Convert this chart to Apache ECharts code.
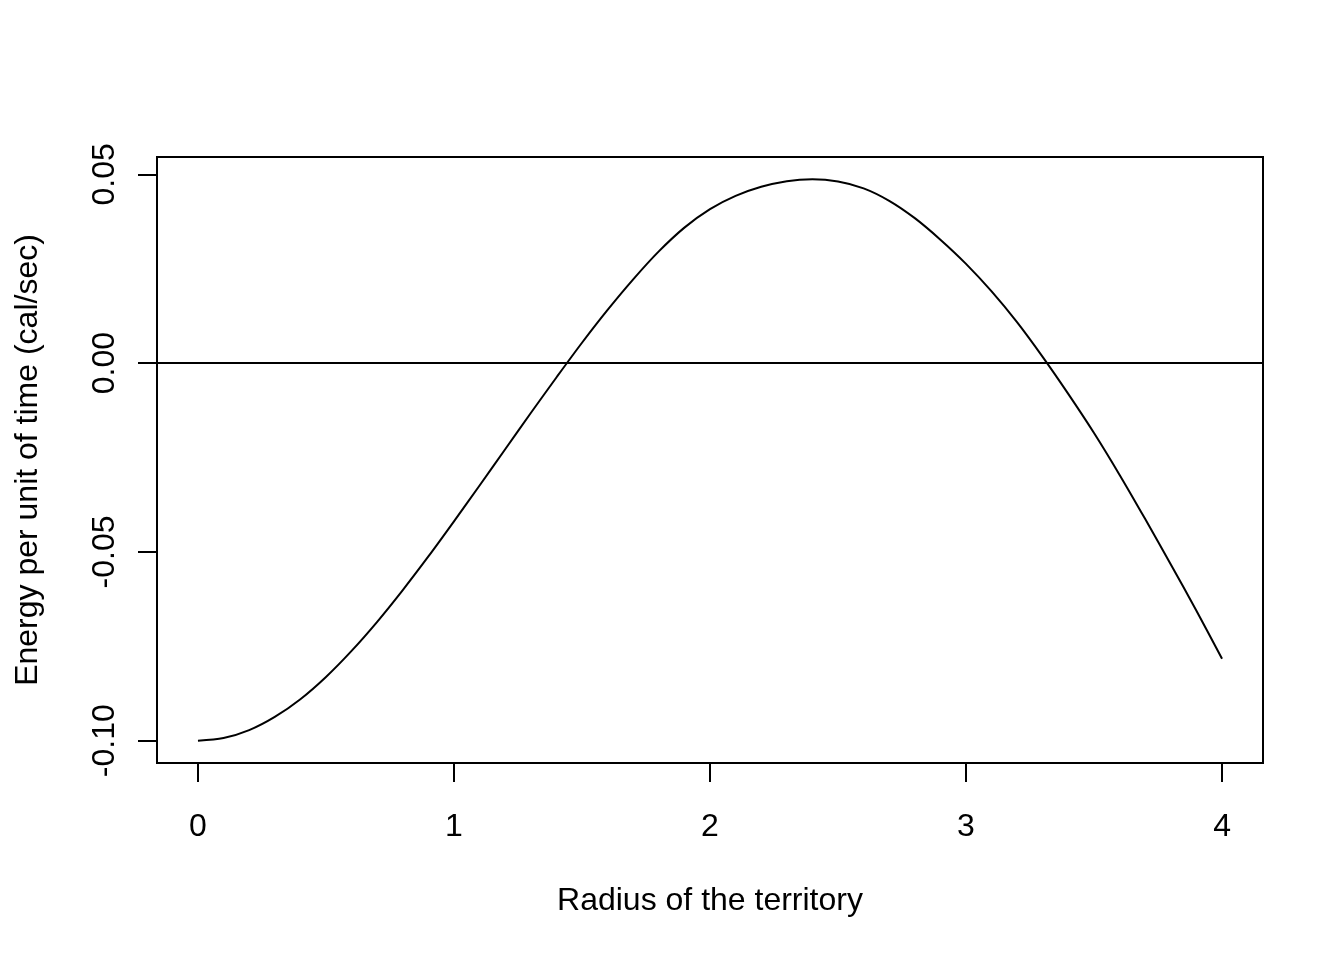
<!DOCTYPE html>
<html>
<head>
<meta charset="utf-8">
<script src="https://cdn.jsdelivr.net/npm/echarts@6/dist/echarts.min.js"></script>
<style>
html,body{margin:0;padding:0;background:#fff;}
#chart{width:1344px;height:960px;}
</style>
</head>
<body>
<div id="chart"></div>
<script>
// Data
const radius = [0.0,0.1,0.2,0.3,0.4,0.5,0.6,0.7,0.8,0.9,
                1.0,1.1,1.2,1.3,1.4,1.5,1.6,1.7,1.8,1.9,
                2.0,2.1,2.2,2.3,2.4,2.5,2.6,2.7,2.8,2.9,
                3.0,3.1,3.2,3.3,3.4,3.5,3.6,3.7,3.8,3.9,4.0];
const energy = [-0.1000,-0.0993,-0.0972,-0.0937,-0.0890,-0.0831,-0.0762,-0.0685,-0.0601,-0.0512,
                -0.0419,-0.0324,-0.0228,-0.0132,-0.0038,0.0054,0.0141,0.0222,0.0296,0.0359,
                0.0408,0.0443,0.0467,0.0482,0.0487,0.0481,0.0463,0.0430,0.0384,0.0327,
                0.0263,0.0190,0.0108,0.0016,-0.0082,-0.0185,-0.0296,-0.0413,-0.0533,-0.0656,-0.0783];
const xTicks = [0,1,2,3,4];
const yTicks = [-0.10,-0.05,0.00,0.05];
const xLabel = "Radius of the territory";
const yLabel = "Energy per unit of time (cal/sec)";

const FONT = "Liberation Sans, Arial, Helvetica, sans-serif";
const chart = echarts.init(document.getElementById('chart'), null, {renderer:'canvas'});
chart.setOption({
  animation:false,
  backgroundColor:'#ffffff',
  grid:{left:157,right:81,top:157,bottom:197,show:true,borderColor:'#000',borderWidth:2,backgroundColor:'transparent'},
  xAxis:{
    type:'value',min:-0.16,max:4.16,
    axisLine:{show:false,onZero:false},
    splitLine:{show:false},
    axisTick:{show:true,customValues:xTicks,length:19,lineStyle:{color:'#000',width:2}},
    axisLabel:{customValues:xTicks,margin:48,color:'#000',fontSize:32,fontFamily:FONT,
      formatter:v=>String(v)},
    name:xLabel,nameLocation:'middle',nameGap:122,
    nameTextStyle:{color:'#000',fontSize:32,fontFamily:FONT}
  },
  yAxis:{
    type:'value',min:-0.1059,max:0.0546,
    axisLine:{show:false,onZero:false},
    splitLine:{show:false},
    axisTick:{show:true,customValues:yTicks,length:19,lineStyle:{color:'#000',width:2}},
    axisLabel:{customValues:yTicks,rotate:90,margin:36,color:'#000',fontSize:32,fontFamily:FONT,
      formatter:v=>v.toFixed(2)},
    name:yLabel,nameLocation:'middle',nameGap:113,nameRotate:90,
    nameTextStyle:{color:'#000',fontSize:32,fontFamily:FONT}
  },
  series:[{
    type:'line',
    data:radius.map((r,i)=>[r,energy[i]]),
    showSymbol:false,
    smooth:0.3,
    lineStyle:{color:'#000',width:2},
    markLine:{
      silent:true,symbol:['none','none'],
      label:{show:false},
      lineStyle:{color:'#000',width:2,type:'solid'},
      data:[{yAxis:0}]
    }
  }]
});
</script>
</body>
</html>
